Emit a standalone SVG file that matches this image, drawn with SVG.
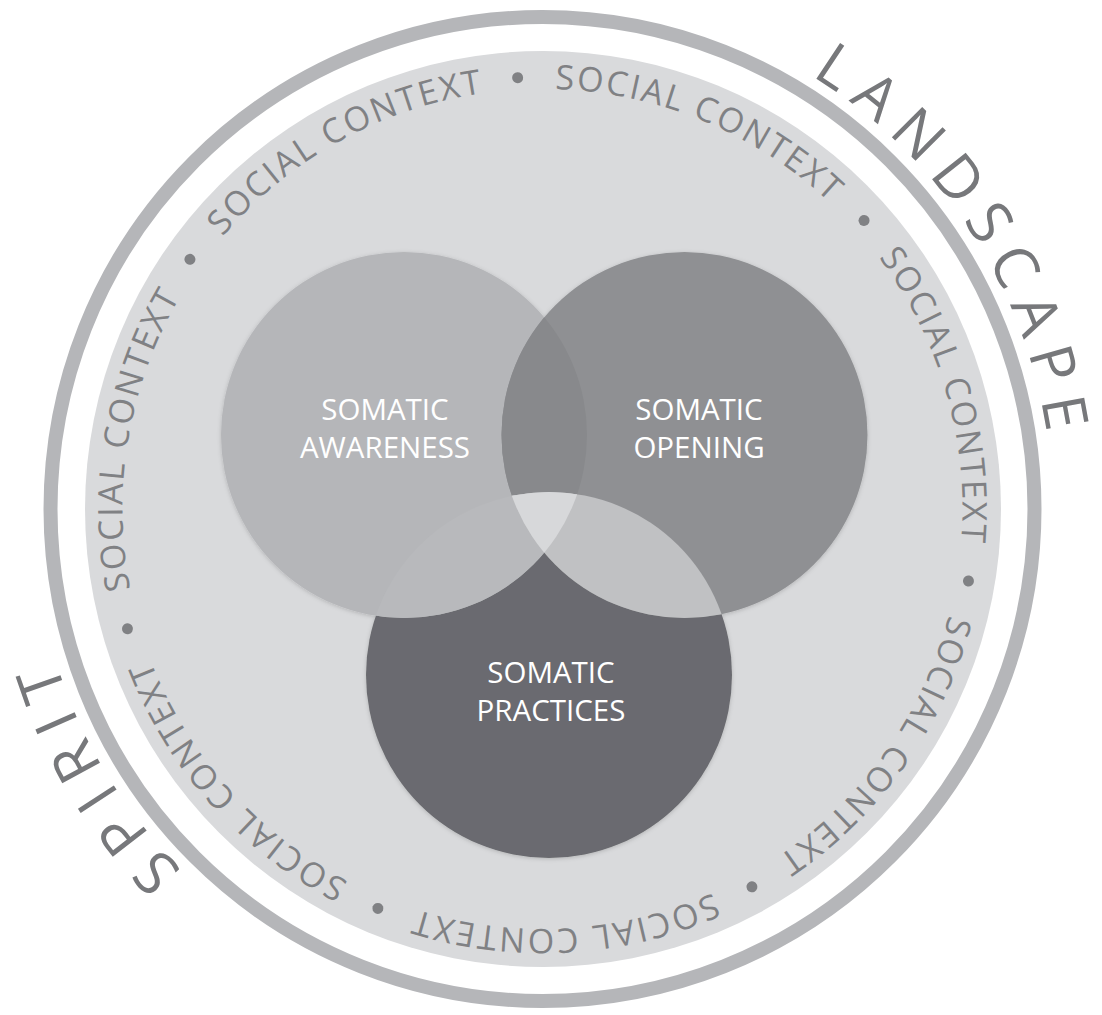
<svg xmlns="http://www.w3.org/2000/svg" xmlns:xlink="http://www.w3.org/1999/xlink" width="1102" height="1015" viewBox="0 0 1102 1015">
  <style>
    .sc { font-family: "Open Sans", "Noto Sans", "Liberation Sans", sans-serif; font-size: 34px; fill: #808184; }
    .outer { font-family: "Open Sans", "Noto Sans", "Liberation Sans", sans-serif; font-size: 60px; fill: #77787b; }
    .lbl { font-family: "Open Sans", "Noto Sans", "Liberation Sans", sans-serif; font-size: 29.5px; fill: #ffffff; text-anchor: middle; }
    .dot { fill: #808184; }
  </style>
  <defs>
    <path id="scPath" d="M 542.5,89 A 420 420 0 1 1 542.5,929 A 420 420 0 1 1 542.5,89"/>
    <path id="outPath" d="M 542.5,-1 A 510 510 0 1 1 542.5,1019 A 510 510 0 1 1 542.5,-1"/>
    <clipPath id="clipA"><circle cx="404" cy="435" r="183"/></clipPath>
    <clipPath id="clipO"><circle cx="684.5" cy="435" r="183"/></clipPath>
    <clipPath id="clipP"><circle cx="549" cy="675" r="183"/></clipPath>
    <filter id="sh" x="-20%" y="-20%" width="140%" height="140%">
      <feDropShadow dx="0" dy="1" stdDeviation="2" flood-color="#000" flood-opacity="0.18"/>
    </filter>
  </defs>

  <!-- outer ring and disc -->
  <g id="frame">
    <circle cx="542.5" cy="509" r="492" fill="none" stroke="#b5b6b9" stroke-width="14"/>
    <circle cx="543" cy="509" r="458" fill="#d9dadc"/>
  </g>

  <!-- social context ring text -->
  <g id="social-context">
    <text class="sc" text-anchor="middle"><textPath xlink:href="#scPath" href="#scPath" startOffset="164.2" textLength="303" lengthAdjust="spacing">SOCIAL CONTEXT</textPath></text>
    <text class="sc" text-anchor="middle"><textPath xlink:href="#scPath" href="#scPath" startOffset="541.2" textLength="303" lengthAdjust="spacing">SOCIAL CONTEXT</textPath></text>
    <text class="sc" text-anchor="middle"><textPath xlink:href="#scPath" href="#scPath" startOffset="918.2" textLength="303" lengthAdjust="spacing">SOCIAL CONTEXT</textPath></text>
    <text class="sc" text-anchor="middle"><textPath xlink:href="#scPath" href="#scPath" startOffset="1295.2" textLength="303" lengthAdjust="spacing">SOCIAL CONTEXT</textPath></text>
    <text class="sc" text-anchor="middle"><textPath xlink:href="#scPath" href="#scPath" startOffset="1672.2" textLength="303" lengthAdjust="spacing">SOCIAL CONTEXT</textPath></text>
    <text class="sc" text-anchor="middle"><textPath xlink:href="#scPath" href="#scPath" startOffset="2049.2" textLength="303" lengthAdjust="spacing">SOCIAL CONTEXT</textPath></text>
    <text class="sc" text-anchor="middle"><textPath xlink:href="#scPath" href="#scPath" startOffset="2426.2" textLength="303" lengthAdjust="spacing">SOCIAL CONTEXT</textPath></text>
    <g transform="translate(542.5 509)">
      <circle class="dot" r="5.5" cx="0" cy="-432" transform="rotate(-3.3)"/>
      <circle class="dot" r="5.5" cx="0" cy="-432" transform="rotate(48.1)"/>
      <circle class="dot" r="5.5" cx="0" cy="-432" transform="rotate(99.6)"/>
      <circle class="dot" r="5.5" cx="0" cy="-432" transform="rotate(151)"/>
      <circle class="dot" r="5.5" cx="0" cy="-432" transform="rotate(202.4)"/>
      <circle class="dot" r="5.5" cx="0" cy="-432" transform="rotate(253.9)"/>
      <circle class="dot" r="5.5" cx="0" cy="-432" transform="rotate(305.3)"/>
    </g>
  </g>

  <!-- outer labels -->
  <g id="landscape">
    <text class="outer" text-anchor="middle"><textPath xlink:href="#outPath" href="#outPath" startOffset="503.8" textLength="441" lengthAdjust="spacing">LANDSCAPE</textPath></text>
  </g>
  <g id="spirit">
    <text class="outer" text-anchor="middle"><textPath xlink:href="#outPath" href="#outPath" startOffset="2124.7" textLength="246" lengthAdjust="spacing">SPIRIT</textPath></text>
  </g>

  <!-- venn circles -->
  <g id="circles" filter="url(#sh)">
    <circle cx="549" cy="675" r="183" fill="#6a6b6f"/>
    <circle cx="404" cy="435" r="183" fill="#b5b6b9"/>
    <circle cx="684.5" cy="435" r="183" fill="#8f9093"/>
  </g>
  <g id="overlaps">
    <g clip-path="url(#clipA)"><circle cx="684.5" cy="435" r="183" fill="#88898c"/></g>
    <g clip-path="url(#clipP)"><circle cx="404" cy="435" r="183" fill="#b8b9bc"/></g>
    <g clip-path="url(#clipP)"><circle cx="684.5" cy="435" r="183" fill="#c0c1c3"/></g>
    <g clip-path="url(#clipP)"><g clip-path="url(#clipA)"><circle cx="684.5" cy="435" r="183" fill="#d7d8da"/></g></g>
  </g>

  <g id="awareness">
    <text class="lbl" x="385" y="420">SOMATIC</text>
    <text class="lbl" x="385" y="458">AWARENESS</text>
  </g>
  <g id="opening">
    <text class="lbl" x="699" y="420">SOMATIC</text>
    <text class="lbl" x="699" y="458">OPENING</text>
  </g>
  <g id="practices">
    <text class="lbl" x="551" y="683">SOMATIC</text>
    <text class="lbl" x="551" y="721">PRACTICES</text>
  </g>
  <g id="connectors"/>
</svg>
